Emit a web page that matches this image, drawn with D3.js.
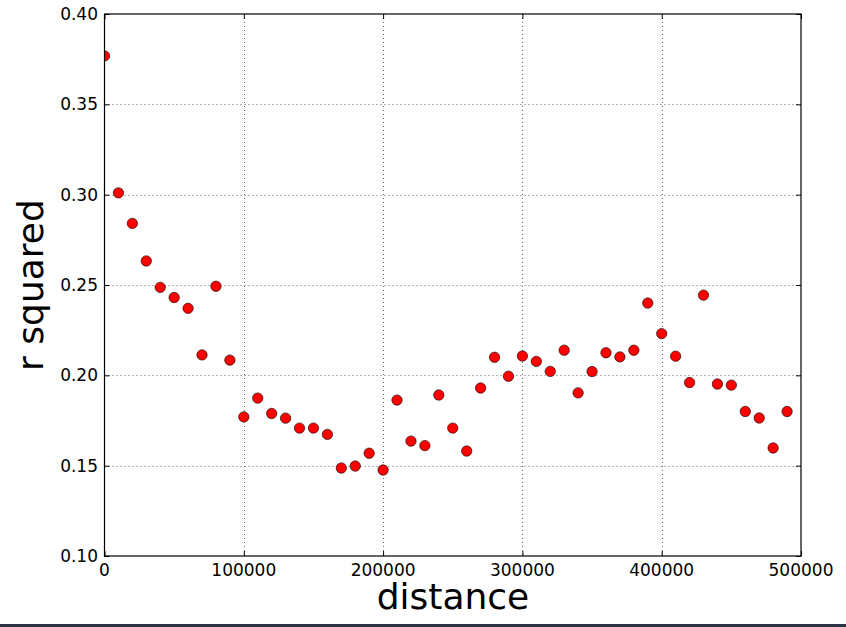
<!DOCTYPE html>
<meta charset="utf-8">
<html lang="en">
  <head>
    <style>
      body { margin: 0; background: #fff; }
      text { font-family: "DejaVu Sans", sans-serif; fill: #000; }
      .grid line { stroke: #666; stroke-width: 1; stroke-dasharray: 1,3; }
      .dot { fill: #ff0000; stroke: #000; stroke-width: 0.6; }
    </style>
  </head>
  <body>
    <script src="https://d3js.org/d3.v7.min.js"></script>
    <svg></svg>
    <script>

      // distance bins and r squared values
      var distances = [0, 10000, 20000, 30000, 40000, 50000, 60000, 70000, 80000, 90000,
        100000, 110000, 120000, 130000, 140000, 150000, 160000, 170000, 180000, 190000,
        200000, 210000, 220000, 230000, 240000, 250000, 260000, 270000, 280000, 290000,
        300000, 310000, 320000, 330000, 340000, 350000, 360000, 370000, 380000, 390000,
        400000, 410000, 420000, 430000, 440000, 450000, 460000, 470000, 480000, 490000];

      var rSquared = [0.3768, 0.3010, 0.2841, 0.2633, 0.2487, 0.2431, 0.2371, 0.2113, 0.2493, 0.2084,
        0.1770, 0.1874, 0.1789, 0.1763, 0.1708, 0.1708, 0.1673, 0.1487, 0.1498, 0.1569,
        0.1476, 0.1863, 0.1636, 0.1611, 0.1891, 0.1708, 0.1581, 0.1930, 0.2100, 0.1995,
        0.2107, 0.2077, 0.2022, 0.2139, 0.1903, 0.2021, 0.2125, 0.2102, 0.2139, 0.2400,
        0.2231, 0.2106, 0.1960, 0.2444, 0.1952, 0.1946, 0.1800, 0.1764, 0.1598, 0.1800];

      var xTicks = [0, 100000, 200000, 300000, 400000, 500000];
      var yTicks = [0.10, 0.15, 0.20, 0.25, 0.30, 0.35, 0.40];

      var width = 846, height = 627;
      var plotL = 104.5, plotR = 801, plotT = 14, plotB = 556;

      var svg = d3.select("svg")
        .attr("width", width)
        .attr("height", height);

      var x = d3.scaleLinear().domain([0, 500000]).range([plotL, plotR]);
      var y = d3.scaleLinear().domain([0.10, 0.40]).range([plotB, plotT]);

      // dotted grid
      var grid = svg.append("g").attr("class", "grid");
      grid.selectAll(".gx")
        .data(xTicks.slice(1, -1))
        .enter().append("line")
        .attr("x1", function(d) { return Math.round(x(d)) + 0.5; })
        .attr("x2", function(d) { return Math.round(x(d)) + 0.5; })
        .attr("y1", plotT).attr("y2", plotB);
      grid.selectAll(".gy")
        .data(yTicks.slice(1, -1))
        .enter().append("line")
        .attr("y1", function(d) { return Math.round(y(d)) + 0.5; })
        .attr("y2", function(d) { return Math.round(y(d)) + 0.5; })
        .attr("x1", plotL).attr("x2", plotR);

      // points (clipped to the axes box)
      svg.append("clipPath").attr("id", "clip")
        .append("rect")
        .attr("x", plotL).attr("y", plotT)
        .attr("width", plotR - plotL).attr("height", plotB - plotT);

      svg.append("g").attr("clip-path", "url(#clip)")
        .selectAll(".dot")
        .data(distances)
        .enter().append("circle")
        .attr("class", "dot")
        .attr("cx", function(d) { return x(d); })
        .attr("cy", function(d, i) { return y(rSquared[i]); })
        .attr("r", 5.2);

      // inward ticks on all four sides
      function noText(g) { g.selectAll("text").remove(); g.select(".domain").remove(); }

      svg.append("g").attr("transform", "translate(0," + plotB + ")")
        .call(d3.axisTop(x).tickValues(xTicks).tickSize(5)).call(noText);
      svg.append("g").attr("transform", "translate(0," + plotT + ")")
        .call(d3.axisBottom(x).tickValues(xTicks).tickSize(5)).call(noText);
      svg.append("g").attr("transform", "translate(" + plotL + ",0)")
        .call(d3.axisRight(y).tickValues(yTicks).tickSize(5)).call(noText);
      svg.append("g").attr("transform", "translate(" + plotR + ",0)")
        .call(d3.axisLeft(y).tickValues(yTicks).tickSize(5)).call(noText);

      // frame
      svg.append("rect")
        .attr("x", plotL).attr("y", plotT)
        .attr("width", plotR - plotL).attr("height", plotB - plotT)
        .attr("fill", "none").attr("stroke", "#000").attr("stroke-width", 1.2);

      // tick labels
      svg.selectAll(".xl")
        .data(xTicks)
        .enter().append("text")
        .attr("x", function(d) { return x(d); })
        .attr("y", 576)
        .attr("text-anchor", "middle")
        .style("font-size", "17px")
        .text(function(d) { return d; });

      svg.selectAll(".yl")
        .data(yTicks)
        .enter().append("text")
        .attr("x", 98)
        .attr("y", function(d) { return y(d) + 6; })
        .attr("text-anchor", "end")
        .style("font-size", "17px")
        .text(function(d) { return d.toFixed(2); });

      // axis titles
      svg.append("text")
        .attr("x", 453)
        .attr("y", 609)
        .attr("text-anchor", "middle")
        .style("font-size", "36px")
        .text("distance");

      svg.append("text")
        .attr("transform", "translate(43,285) rotate(-90)")
        .attr("text-anchor", "middle")
        .style("font-size", "36px")
        .text("r squared");

      // dark strip along the bottom edge
      svg.append("rect")
        .attr("x", 0).attr("y", 624)
        .attr("width", width).attr("height", 3)
        .attr("fill", "#2c3345");

    </script>
  </body>
</html>
